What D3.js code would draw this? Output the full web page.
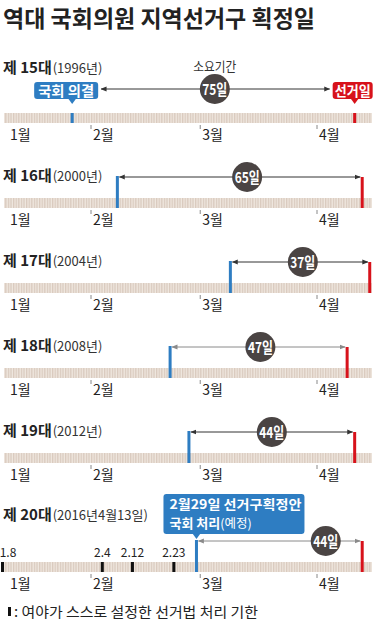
<!DOCTYPE html>
<html><head><meta charset="utf-8">
<script src="https://cdn.jsdelivr.net/npm/d3@7"></script>
<style>
html,body{margin:0;padding:0;background:#fff;}
svg{display:block;font-family:"Noto Sans CJK KR","Noto Sans",sans-serif;}
</style></head>
<body>
<svg id="chart" width="375" height="622"></svg>
<script>
const title = "역대 국회의원 지역선거구 획정일";
const categories = ["제 15대","제 16대","제 17대","제 18대","제 19대","제 20대"];
const yearLabels = ["(1996년)","(2000년)","(2004년)","(2008년)","(2012년)","(2016년4월13일)"];
const decisionDates = ["01-27","02-08","03-09","02-22","02-27","02-29"];
const electionDates = ["04-11","04-13","04-15","04-09","04-11","04-13"];
const durations = [75,65,37,47,44,44];
const monthLabels = ["1월","2월","3월","4월"];
const monthStarts = ["01-01","02-01","03-01","04-01"];
const deadlineDates = ["01-08","02-04","02-12","02-23"];
const deadlineLabels = ["1.8","2.4","2.12","2.23"];
const durationCaption = "소요기간";
const decisionTag = "국회 의결";
const electionTag = "선거일";
const calloutLine1 = "2월29일 선거구획정안";
const calloutLine2a = "국회 처리";
const calloutLine2b = "(예정)";
const legendText = ": 여야가 스스로 설정한 선거법 처리 기한";

// all election years are leap years -> map month-day onto 2016
const toDate = md => { const [m,d] = md.split("-").map(Number); return new Date(Date.UTC(2016, m-1, d)); };

const BLUE = "#2e7dc2", RED = "#d7121b", DARK = "#4a4443";
const svg = d3.select("#chart");

const x = d3.scaleUtc()
  .domain([toDate("02-01"), toDate("04-01")])
  .range([91, 317]);

const stripL = 4, stripR = 372, stripH = 10;

const defs = svg.append("defs");
const pat = defs.append("pattern").attr("id","stripes").attr("patternUnits","userSpaceOnUse")
  .attr("width",2.6).attr("height",10);
pat.append("rect").attr("width",2.6).attr("height",10).attr("fill","#efe7df");
pat.append("rect").attr("width",1.3).attr("height",10).attr("fill","#d9cabe");

function mkArrow(id, color){
  defs.append("marker").attr("id",id).attr("viewBox","0 0 10 10").attr("refX",9).attr("refY",5)
    .attr("markerWidth",6).attr("markerHeight",6).attr("orient","auto-start-reverse")
    .attr("markerUnits","userSpaceOnUse")
    .append("path").attr("d","M0,1 L10,5 L0,9 Z").attr("fill",color);
}
mkArrow("arrDark","#333");
mkArrow("arrGray","#8a8a8a");

svg.append("text").attr("x",3).attr("y",27).attr("font-size",23).attr("font-weight",700)
  .attr("fill","#222").attr("textLength",312).attr("lengthAdjust","spacingAndGlyphs").text(title);

const stripTops = categories.map((c,i) => i < 5 ? 113 + i*85 : 562);
const labelY = categories.map((c,i) => i === 0 ? 73 : (i === 5 ? 520 : stripTops[i] - 17));
const arrowY = categories.map((c,i) => i === 0 ? 89 : stripTops[i] - 21);
const circleFrac = [0.505, 0.53, 0.52, 0.51, 0.5, 0.78];
const arrowColor = ["dark","dark","dark","gray","dark","gray"];

categories.forEach((cat, i) => {
  const g = svg.append("g");
  const top = stripTops[i];
  const xb = x(toDate(decisionDates[i]));
  const xr = x(toDate(electionDates[i]));

  const t = g.append("text").attr("x",3).attr("y",labelY[i]).attr("fill","#222");
  t.append("tspan").attr("font-size",15).attr("font-weight",700).text(cat);
  t.append("tspan").attr("font-size",13).attr("font-weight",400).attr("fill","#333").attr("dx",1).text(yearLabels[i]);

  g.append("rect").attr("x",stripL).attr("y",top).attr("width",stripR-stripL).attr("height",stripH)
    .attr("fill","url(#stripes)");

  monthStarts.forEach((ms, k) => {
    const mx = x(toDate(ms));
    if (mx > stripL) {
      g.append("line").attr("x1",mx).attr("x2",mx).attr("y1",top+12).attr("y2",top+16)
        .attr("stroke","#888").attr("stroke-width",1);
    }
    g.append("text").attr("x",Math.max(mx+2, 10)).attr("y",top+27).attr("font-size",14)
      .attr("fill","#222").text(monthLabels[k]);
  });

  const ay = arrowY[i];
  const marker = arrowColor[i] === "dark" ? "arrDark" : "arrGray";
  const lineCol = arrowColor[i] === "dark" ? "#333" : "#8a8a8a";

  if (i === 0) {
    g.append("rect").attr("x",xb-1.5).attr("y",top).attr("width",3).attr("height",stripH).attr("fill",BLUE);
    g.append("rect").attr("x",xr-1.5).attr("y",top).attr("width",3).attr("height",stripH).attr("fill",RED);
    const tagW1 = 64, tagW2 = 40, tagTop = 82, tagH = 17;
    const b1x = xb - 38;
    g.append("rect").attr("x",b1x).attr("y",tagTop).attr("width",tagW1).attr("height",tagH).attr("rx",3).attr("fill",BLUE);
    g.append("path").attr("d",`M${xb-4},${tagTop+tagH-0.5} L${xb+4},${tagTop+tagH-0.5} L${xb},${tagTop+tagH+5} Z`).attr("fill",BLUE);
    g.append("text").attr("x",b1x+tagW1/2).attr("y",tagTop+13.5).attr("text-anchor","middle").attr("font-size",14)
      .attr("font-weight",700).attr("fill","#fff").attr("textLength",56).attr("lengthAdjust","spacingAndGlyphs").text(decisionTag);
    const b2x = xr - 22;
    g.append("rect").attr("x",b2x).attr("y",tagTop).attr("width",tagW2).attr("height",tagH).attr("rx",3).attr("fill",RED);
    g.append("path").attr("d",`M${xr-4},${tagTop+tagH-0.5} L${xr+4},${tagTop+tagH-0.5} L${xr},${tagTop+tagH+5} Z`).attr("fill",RED);
    g.append("text").attr("x",b2x+tagW2/2).attr("y",tagTop+13.5).attr("text-anchor","middle").attr("font-size",14)
      .attr("font-weight",700).attr("fill","#fff").attr("textLength",36).attr("lengthAdjust","spacingAndGlyphs").text(electionTag);
    g.append("line").attr("x1",b1x+tagW1+3).attr("x2",b2x-3).attr("y1",ay).attr("y2",ay)
      .attr("stroke",lineCol).attr("stroke-width",1)
      .attr("marker-start",`url(#${marker})`).attr("marker-end",`url(#${marker})`);
    svg.append("text").attr("x",xb + (xr-xb)*circleFrac[i]).attr("y",71).attr("text-anchor","middle")
      .attr("font-size",13).attr("fill","#333").attr("textLength",43).attr("lengthAdjust","spacingAndGlyphs").text(durationCaption);
  } else {
    g.append("line").attr("x1",xb+2).attr("x2",xr-2).attr("y1",ay).attr("y2",ay)
      .attr("stroke",lineCol).attr("stroke-width",1)
      .attr("marker-start",`url(#${marker})`).attr("marker-end",`url(#${marker})`);
    g.append("rect").attr("x",xb-1.5).attr("y",ay-1).attr("width",3).attr("height",top+stripH-ay+1).attr("fill",BLUE);
    g.append("rect").attr("x",xr-1.5).attr("y",ay).attr("width",3).attr("height",top+stripH-ay).attr("fill",RED);
  }

  const cx = xb + (xr-xb)*circleFrac[i];
  g.append("circle").attr("cx",cx).attr("cy",ay).attr("r",15).attr("fill",DARK);
  g.append("text").attr("x",cx).attr("y",ay+5.5).attr("text-anchor","middle").attr("font-size",15)
    .attr("font-weight",700).attr("fill","#fff").attr("textLength",25).attr("lengthAdjust","spacingAndGlyphs")
    .text(durations[i] + "일");

  if (i === 5) {
    deadlineDates.forEach((dd, k) => {
      const dx = x(toDate(dd));
      g.append("rect").attr("x",Math.max(dx-1.5, 1)).attr("y",top).attr("width",3).attr("height",stripH).attr("fill","#111");
      g.append("text").attr("x",Math.max(dx, 8)).attr("y",top-5).attr("text-anchor","middle")
        .attr("font-size",12).attr("fill","#222").text(deadlineLabels[k]);
    });
    const bx = xb - 33, by = 494, bw = 141, bh = 40;
    g.append("rect").attr("x",bx).attr("y",by).attr("width",bw).attr("height",bh).attr("rx",3).attr("fill",BLUE);
    g.append("path").attr("d",`M${xb-4},${by+bh-0.5} L${xb+4},${by+bh-0.5} L${xb},${by+bh+5} Z`).attr("fill",BLUE);
    g.append("text").attr("x",bx+6).attr("y",by+15).attr("font-size",13).attr("font-weight",700)
      .attr("fill","#fff").attr("textLength",132).attr("lengthAdjust","spacingAndGlyphs").text(calloutLine1);
    const t2 = g.append("text").attr("x",bx+6).attr("y",by+34).attr("fill","#fff").attr("font-size",13);
    t2.append("tspan").attr("font-weight",700).text(calloutLine2a);
    t2.append("tspan").attr("font-weight",400).attr("font-size",12.5).text(calloutLine2b);
  }
});

svg.append("rect").attr("x",8).attr("y",607).attr("width",3).attr("height",9).attr("fill","#111");
svg.append("text").attr("x",14).attr("y",617).attr("font-size",14).attr("fill","#222")
  .attr("textLength",244).attr("lengthAdjust","spacingAndGlyphs").text(legendText);
</script>
</body></html>
